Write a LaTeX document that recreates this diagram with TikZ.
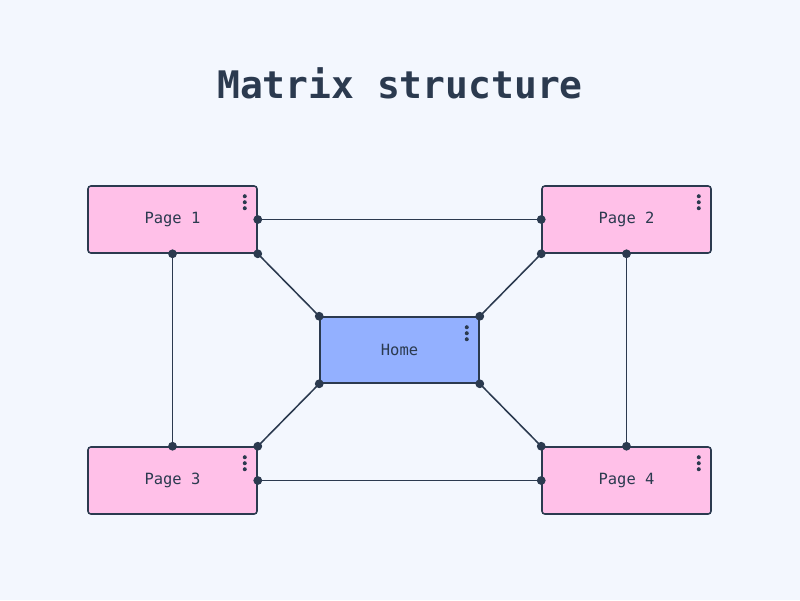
\documentclass[tikz,border=0pt]{standalone}
\usepackage{fontspec}
\setmonofont{DejaVu Sans Mono}
\usetikzlibrary{calc}
\definecolor{bgcolor}{HTML}{F3F7FE}
\definecolor{inkcolor}{HTML}{2B3A4F}
\definecolor{pagecolor}{HTML}{FFC0E8}
\definecolor{homecolor}{HTML}{93B0FF}

\begin{document}
\begin{tikzpicture}[
    every node/.style={font=\ttfamily\fontsize{11}{13}\selectfont, text=inkcolor},
    pagebox/.style={rectangle, draw=inkcolor, fill=pagecolor, line width=1.1pt,
        minimum width=4.225cm, minimum height=1.675cm, rounded corners=2pt},
    homebox/.style={rectangle, draw=inkcolor, fill=homecolor, line width=1.1pt,
        minimum width=3.975cm, minimum height=1.65cm, rounded corners=1pt},
    link/.style={draw=inkcolor, line width=1.1pt},
    enddot/.style={fill=inkcolor},
]

% background / frame
\fill[bgcolor] (0,0) rectangle (20,-15);

% === TITLE ===
\node[font=\ttfamily\bfseries\fontsize{27}{32}\selectfont] (title) at (10,-2.075) {Matrix structure};

% === NODES ===
\node[homebox] (home) at (9.9875,-8.75) {Home};
\node[pagebox] (page1) at (4.3125,-5.4875) {Page 1};
\node[pagebox] (page2) at (15.6625,-5.4875) {Page 2};
\node[pagebox] (page3) at (4.3125,-12.0125) {Page 3};
\node[pagebox] (page4) at (15.6625,-12.0125) {Page 4};

% menu dots
\foreach \n in {home,page1,page2,page3,page4}
    \foreach \k in {0,1,2}
        \fill[inkcolor] ($(\n.north east)+(-0.325,-0.275-0.15*\k)$) circle (0.05);

% === CONNECTORS ===
\coordinate (p1r) at ($(page1.north east)!0.5!(page1.south east)$);
\coordinate (p2l) at ($(page2.north west)!0.5!(page2.south west)$);
\coordinate (p3r) at ($(page3.north east)!0.5!(page3.south east)$);
\coordinate (p4l) at ($(page4.north west)!0.5!(page4.south west)$);

\draw[link] (p1r) -- (p2l);
\draw[link] (p3r) -- (p4l);
\draw[link] (page1.south) -- (page3.north);
\draw[link] (page2.south) -- (page4.north);
\draw[link] (page1.south east) -- (home.north west);
\draw[link] (page2.south west) -- (home.north east);
\draw[link] (page3.north east) -- (home.south west);
\draw[link] (page4.north west) -- (home.south east);

% end points
\foreach \p in {p1r,p2l,p3r,p4l,page1.south,page3.north,page2.south,page4.north,
    page1.south east,home.north west,page2.south west,home.north east,
    page3.north east,home.south west,page4.north west,home.south east}
    \fill[enddot] (\p) circle (0.11);

\end{tikzpicture}
\end{document}
